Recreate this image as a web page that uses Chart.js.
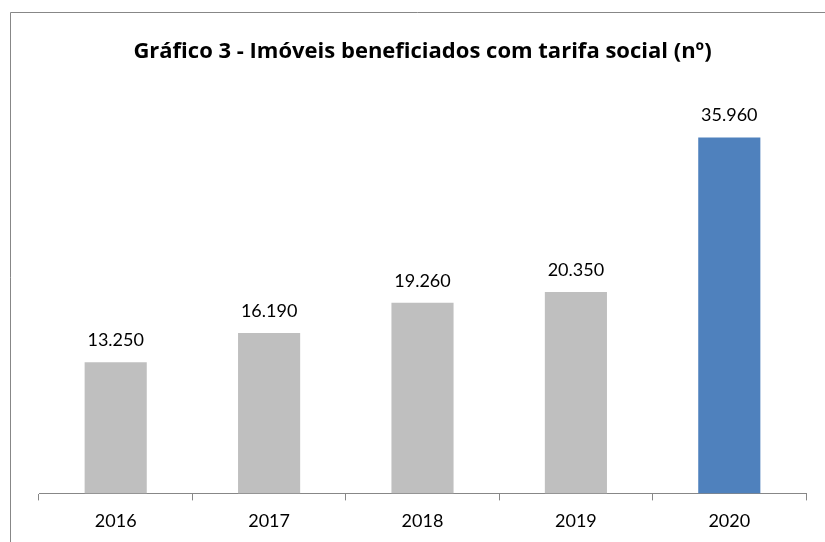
<!DOCTYPE html>
<html>
<head>
<meta charset="utf-8">
<script src="https://cdn.jsdelivr.net/npm/chart.js@4/dist/chart.umd.min.js"></script>
<style>
  html, body { margin: 0; padding: 0; background: #ffffff; }
  #wrap { width: 825px; height: 542px; position: relative; }
</style>
</head>
<body>
<div id="wrap"><canvas id="myChart" width="825" height="542"></canvas></div>
<script>
var years = ["2016", "2017", "2018", "2019", "2020"];
var imoveis = [13250, 16190, 19260, 20350, 35960];
var barColors = ["#BFBFBF", "#BFBFBF", "#BFBFBF", "#BFBFBF", "#4F81BD"];
var titleText = "Gráfico 3 - Imóveis beneficiados com tarifa social (nº)";

var fontFamily = "Lato, 'Open Sans', sans-serif";
var titleFamily = "'Open Sans', Lato, sans-serif";

// number with dot as thousands separator
function fmt(v) {
	return v.toString().replace(/\B(?=(\d{3})+(?!\d))/g, ".");
}

// frame lines of the chart box (left and top)
var framePlugin = {
	id: "frame",
	beforeDraw: function(chart) {
		var c = chart.ctx;
		c.save();
		c.strokeStyle = "#878787";
		c.lineWidth = 1;
		c.beginPath();
		c.moveTo(10.5, 542);
		c.lineTo(10.5, 12.5);
		c.lineTo(825, 12.5);
		c.stroke();
		c.restore();
	}
};

// value labels above each bar
var valuePlugin = {
	id: "values",
	afterDatasetsDraw: function(chart) {
		var c = chart.ctx;
		var meta = chart.getDatasetMeta(0);
		c.save();
		c.font = "18px " + fontFamily;
		c.fillStyle = "#000000";
		c.textAlign = "center";
		c.textBaseline = "middle";
		meta.data.forEach(function(bar, i) {
			c.fillText(fmt(imoveis[i]), bar.x, bar.y - 22);
		});
		c.restore();
	}
};

var ctx = document.getElementById("myChart").getContext("2d");
var chart = new Chart(ctx, {
	type: "bar",
	data: {
		labels: years,
		datasets: [{
			label: "Imóveis",
			data: imoveis,
			backgroundColor: barColors,
			borderWidth: 0,
			categoryPercentage: 1,
			barPercentage: 0.405
		}]
	},
	options: {
		responsive: false,
		animation: false,
		layout: { padding: { left: 39, right: 19, top: 0, bottom: 0 } },
		plugins: {
			legend: { display: false },
			tooltip: { enabled: false },
			title: {
				display: true,
				text: titleText,
				color: "#000000",
				font: { family: titleFamily, size: 22, weight: "bold", lineHeight: 1.2 },
				padding: { top: 39, bottom: 32 }
			}
		},
		scales: {
			y: {
				display: false,
				min: 0,
				max: 40000
			},
			x: {
				grid: {
					drawOnChartArea: false,
					drawTicks: true,
					tickLength: 7,
					color: "#878787"
				},
				border: { display: true, color: "#878787", width: 1 },
				ticks: {
					color: "#000000",
					padding: 10,
					font: { family: fontFamily, size: 18 }
				}
			}
		}
	},
	plugins: [framePlugin, valuePlugin]
});
</script>
</body>
</html>
